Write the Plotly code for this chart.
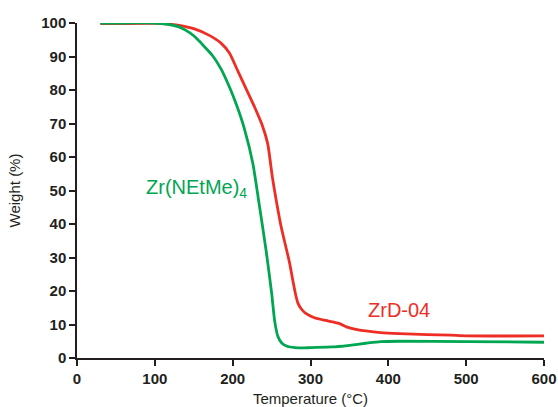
import plotly.graph_objects as go

# Zr(NEtMe)4 TGA curve
green_T = [30, 60, 100, 115, 130, 140, 150, 157, 165, 174, 185, 196, 205, 215, 226, 234, 243, 250, 254, 258, 263, 270, 280, 290, 300, 328, 350, 371, 390, 414, 500, 600]
green_W = [100, 100, 100, 99.7, 98.9, 97.8, 96.2, 94.6, 92.6, 90.3, 86.3, 80.8, 75.5, 68.5, 58, 46, 32, 19.5, 11, 6.5, 4.5, 3.5, 3.1, 3.0, 3.1, 3.3, 3.8, 4.4, 4.9, 5.0, 4.9, 4.7]

# ZrD-04 TGA curve
red_T = [30, 100, 110, 120, 131, 150, 170, 185, 196, 205, 217, 228, 238, 245, 251, 256, 262, 268, 273, 277, 281, 284, 288, 294, 305, 320, 328, 338, 346, 360, 371, 390, 414, 450, 480, 500, 600]
red_W = [99.8, 99.9, 99.8, 99.6, 99.3, 98.3, 96.3, 94, 91, 86.5, 80.5, 75, 69.5, 64, 54, 47, 39.5, 33.5, 28.5, 23.5, 18.8, 16.3, 14.7, 13.3, 12, 11.2, 10.8, 10.2, 9.3, 8.5, 8.1, 7.6, 7.3, 7.0, 6.8, 6.6, 6.6]

x_ticks = [0, 100, 200, 300, 400, 500, 600]
y_ticks = [0, 10, 20, 30, 40, 50, 60, 70, 80, 90, 100]

GREEN = "#00A651"
RED = "#EE2E24"
AXIS = "#231F20"
FONT = "Liberation Sans, Arial, sans-serif"

fig = go.Figure()
fig.add_trace(go.Scatter(x=red_T, y=red_W, mode="lines",
                         line=dict(color=RED, width=2.8, shape="spline", smoothing=0.6),
                         showlegend=False))
fig.add_trace(go.Scatter(x=green_T, y=green_W, mode="lines",
                         line=dict(color=GREEN, width=2.8, shape="spline", smoothing=0.6),
                         showlegend=False))

fig.add_annotation(x=153, y=50.7, text="Zr(NEtMe)<sub>4</sub>", showarrow=False,
                   font=dict(family=FONT, size=20, color=GREEN))
fig.add_annotation(x=413.5, y=14.4, text="ZrD-04", showarrow=False,
                   font=dict(family=FONT, size=20, color=RED))

fig.update_layout(
    width=558, height=407,
    margin=dict(l=77, r=14, t=23, b=49),
    paper_bgcolor="white", plot_bgcolor="white",
    font=dict(family=FONT, color=AXIS),
)
fig.update_xaxes(
    range=[0, 600], tickvals=x_ticks, ticktext=[str(v) for v in x_ticks],
    showgrid=False, zeroline=False, showline=True, linecolor=AXIS, linewidth=1.5,
    ticks="outside", ticklen=6, tickwidth=1.5, tickcolor=AXIS, automargin=False,
    tickfont=dict(family=FONT, size=15, weight="bold", color=AXIS),
    title=dict(text="Temperature (°C)", font=dict(family=FONT, size=15, color=AXIS), standoff=9),
)
fig.update_yaxes(
    range=[0, 100], tickvals=y_ticks, ticktext=[str(v) for v in y_ticks],
    showgrid=False, zeroline=False, showline=True, linecolor=AXIS, linewidth=1.5,
    ticks="outside", ticklen=6, tickwidth=1.5, tickcolor=AXIS, automargin=False,
    tickfont=dict(family=FONT, size=15, weight="bold", color=AXIS),
    title=dict(text="Weight (%)", font=dict(family=FONT, size=15, color=AXIS), standoff=17),
)

fig.write_html("out.html")
